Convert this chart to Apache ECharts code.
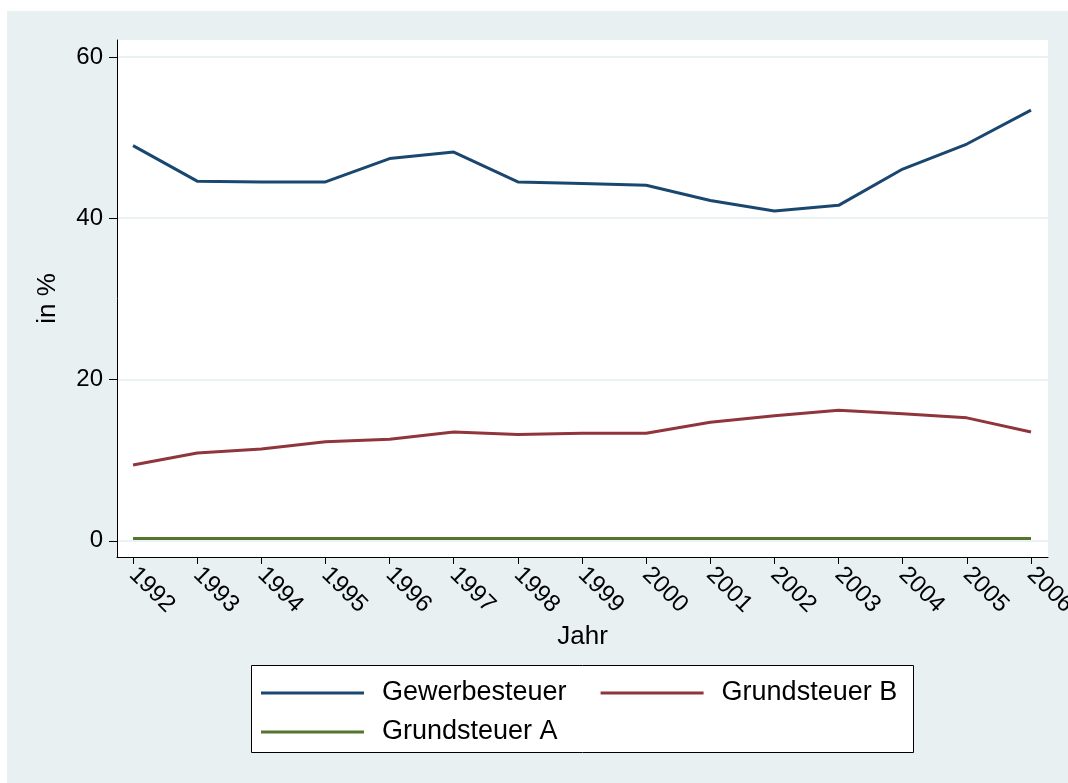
<!DOCTYPE html>
<html>
<head>
<meta charset="utf-8">
<script src="https://cdn.jsdelivr.net/npm/echarts@6/dist/echarts.min.js"></script>
<style>
	html, body { margin: 0; padding: 0; background: #fff; }
	#chart { width: 1068px; height: 783px; }
</style>
</head>
<body>
<div id="chart"></div>
<script>
// Jahre
var years = [1992, 1993, 1994, 1995, 1996, 1997, 1998, 1999, 2000, 2001, 2002, 2003, 2004, 2005, 2006];
// Anteile in %
var gewerbesteuer = [49.0, 44.6, 44.5, 44.5, 47.4, 48.2, 44.5, 44.3, 44.1, 42.2, 40.9, 41.6, 46.1, 49.2, 53.4];
var grundsteuerB = [9.4, 10.9, 11.4, 12.3, 12.6, 13.5, 13.2, 13.35, 13.35, 14.7, 15.5, 16.2, 15.75, 15.25, 13.5];
var grundsteuerA = [0.3, 0.3, 0.3, 0.3, 0.3, 0.3, 0.3, 0.3, 0.3, 0.3, 0.3, 0.3, 0.3, 0.3, 0.3];
var yTicks = [0, 20, 40, 60];

var font = 'Liberation Sans, Arial, sans-serif';

function pairs(vals) {
	return years.map(function(y, i) { return [y, vals[i]]; });
}

// Legende (zwei Zeilen wie im Original)
function legendRow(top, names) {
	return {
		left: 261,
		top: top,
		orient: 'horizontal',
		padding: 0,
		itemWidth: 103,
		itemHeight: 3,
		itemGap: 34,
		icon: 'rect',
		selectedMode: false,
		textStyle: {
			fontFamily: font,
			fontSize: 27,
			color: '#000',
			lineHeight: 30,
			padding: [0, 0, 0, 13]
		},
		data: names
	};
}

var myChart = echarts.init(document.getElementById('chart'));
var option = {
	backgroundColor: '#fff',
	animation: false,
	graphic: [{
		type: 'rect',
		z: -10,
		shape: { x: 7, y: 11, width: 1061, height: 772 },
		style: { fill: '#e8f0f2' }
	}, {
		type: 'rect',
		z: -9,
		shape: { x: 117, y: 40, width: 931, height: 517 },
		style: { fill: '#fff' }
	}, {
		type: 'rect',
		z: -8,
		shape: { x: 251.5, y: 665.5, width: 662, height: 87 },
		style: { fill: '#fff', stroke: '#000', lineWidth: 1 }
	}],
	grid: {
		left: 117,
		right: 20,
		top: 40,
		bottom: 226,
		outerBoundsMode: 'none'
	},
	xAxis: {
		type: 'value',
		min: 1991.75,
		max: 2006.265,
		name: 'Jahr',
		nameLocation: 'middle',
		nameGap: 66,
		nameTextStyle: { fontFamily: font, fontSize: 26, color: '#000' },
		axisLine: { show: true, onZero: false, lineStyle: { color: '#000', width: 1 } },
		axisTick: { show: true, length: 7, customValues: years, lineStyle: { color: '#000' } },
		axisLabel: {
			customValues: years,
			rotate: -45,
			margin: 14,
			fontFamily: font,
			fontSize: 24,
			color: '#000',
			formatter: function(v) { return String(v); }
		},
		splitLine: { show: false }
	},
	yAxis: {
		type: 'value',
		min: -2,
		max: 62.1,
		name: 'in %',
		nameLocation: 'middle',
		nameGap: 56,
		nameTextStyle: { fontFamily: font, fontSize: 26, color: '#000' },
		axisLine: { show: true, lineStyle: { color: '#000', width: 1 } },
		axisTick: { show: true, length: 8, customValues: yTicks, lineStyle: { color: '#000' } },
		axisLabel: {
			customValues: yTicks,
			margin: 14,
			fontFamily: font,
			fontSize: 24,
			color: '#000'
		},
		splitLine: { show: true, lineStyle: { color: '#eaf2f3', width: 2 } }
	},
	legend: [
		legendRow(678, ['Gewerbesteuer', 'Grundsteuer B']),
		legendRow(717, ['Grundsteuer A'])
	],
	series: [{
		name: 'Gewerbesteuer',
		type: 'line',
		data: pairs(gewerbesteuer),
		showSymbol: false,
		lineStyle: { color: '#1a476f', width: 3 },
		itemStyle: { color: '#1a476f' }
	}, {
		name: 'Grundsteuer B',
		type: 'line',
		data: pairs(grundsteuerB),
		showSymbol: false,
		lineStyle: { color: '#90353b', width: 3 },
		itemStyle: { color: '#90353b' }
	}, {
		name: 'Grundsteuer A',
		type: 'line',
		data: pairs(grundsteuerA),
		showSymbol: false,
		lineStyle: { color: '#55752f', width: 3 },
		itemStyle: { color: '#55752f' }
	}]
};
myChart.setOption(option);
</script>
</body>
</html>
